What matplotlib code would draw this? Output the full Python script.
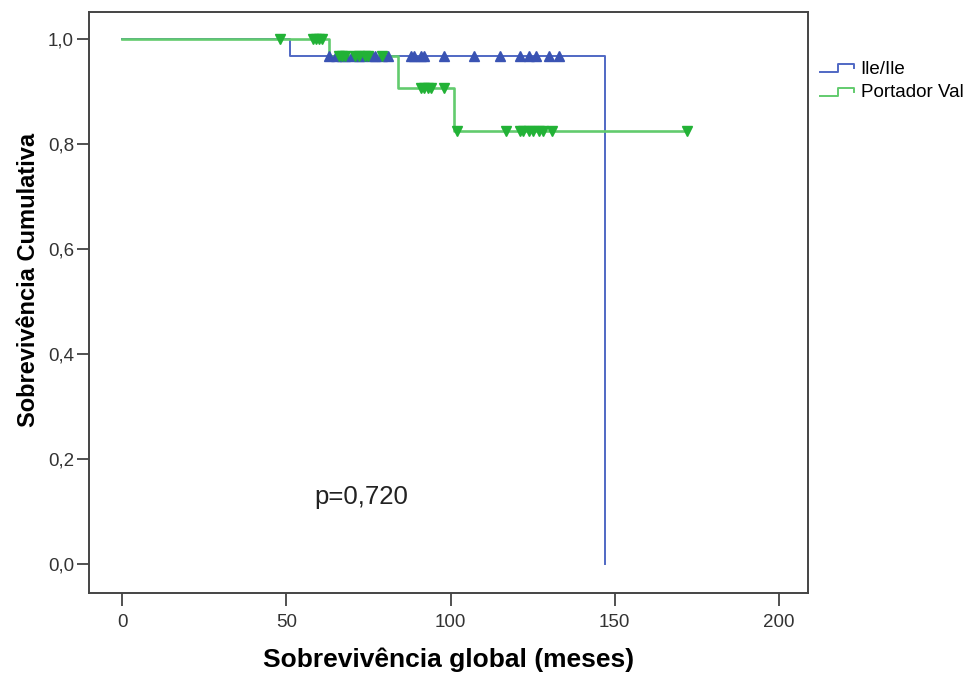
"""Curvas de Kaplan-Meier: sobrevivência global por genótipo."""

import numpy as np
import matplotlib
matplotlib.use("Agg")
import matplotlib.pyplot as plt
from matplotlib.legend_handler import HandlerBase
from matplotlib.lines import Line2D


# Dados (meses / sobrevivência cumulativa)

ILE_TEMPOS = [0, 51, 147]
ILE_SOBREV = [1.0, 0.967, 0.0]
ILE_CENSURA = [63, 65, 67, 68, 70, 72, 73, 76, 77, 79, 81,
               88, 89, 91, 92, 98, 107, 115, 121, 124, 126, 130, 133]

VAL_TEMPOS = [0, 63, 84, 101, 172]
VAL_SOBREV = [1.0, 0.967, 0.907, 0.825, 0.825]
VAL_CENSURA = [48, 58, 59, 60, 61, 66, 67, 68, 71, 72, 74, 75, 79,
               91, 92, 93, 94, 98, 102, 117, 121, 122, 124, 125, 127, 128,
               131, 172]

ROTULOS = ["Ile/Ile", "Portador Val"]
X_TICKS = [0, 50, 100, 150, 200]
Y_TICKS = [0.0, 0.2, 0.4, 0.6, 0.8, 1.0]

AZUL = "#5068c4"
AZUL_MARCA = "#3a53b3"
VERDE = "#62cb6e"
VERDE_MARCA = "#22b236"
FONTE = ["Liberation Sans", "DejaVu Sans"]


def sobrev_em(tempos, sobrev, t):
    """Valor da curva em degrau no instante t."""
    idx = np.searchsorted(tempos, t, side="right") - 1
    return np.asarray(sobrev)[idx]


class DegrauHandler(HandlerBase):
    """Símbolo da legenda em forma de degrau."""

    def create_artists(self, legend, orig_handle, xdescent, ydescent,
                       width, height, fontsize, trans):
        x0, y0 = -xdescent, -ydescent
        xs = [x0, x0 + 0.55 * width, x0 + 0.55 * width,
              x0 + width, x0 + width]
        ys = [y0 + 0.1 * height, y0 + 0.1 * height, y0 + 0.75 * height,
              y0 + 0.75 * height, y0 + 0.45 * height]
        linha = Line2D(xs, ys, color=orig_handle.get_color(), lw=1.4,
                       transform=trans)
        return [linha]


if __name__ == "__main__":

    plt.rcParams["font.family"] = FONTE
    fig = plt.figure(figsize=(9.71, 6.73), dpi=100)
    ax = fig.add_axes([0.092, 0.119, 0.740, 0.863])

    # Curvas
    l1, = ax.step(ILE_TEMPOS, ILE_SOBREV, where="post", color=AZUL, lw=1.4)
    l2, = ax.step(VAL_TEMPOS, VAL_SOBREV, where="post", color=VERDE, lw=1.9)

    # Censuras
    ax.plot(ILE_CENSURA, sobrev_em(ILE_TEMPOS, ILE_SOBREV, ILE_CENSURA),
            "^", color=AZUL_MARCA, ms=7, ls="none")
    ax.plot(VAL_CENSURA, sobrev_em(VAL_TEMPOS, VAL_SOBREV, VAL_CENSURA),
            "v", color=VERDE_MARCA, ms=7, ls="none")

    ax.text(58.5, 0.128, "p=0,720", fontsize=18.5, va="center", ha="left",
            color="#222222")

    # Eixos
    ax.set_xlim(-10, 208.8)
    ax.set_ylim(-0.055, 1.051)
    ax.set_xticks(X_TICKS)
    ax.set_xticklabels([str(v) for v in X_TICKS])
    ax.set_yticks(Y_TICKS)
    ax.set_yticklabels([f"{v:.1f}".replace(".", ",") for v in Y_TICKS])
    ax.tick_params(direction="out", length=9, width=1.2, labelsize=13.5,
                   colors="#333333")
    ax.tick_params(axis="y", pad=2)
    ax.tick_params(axis="x", pad=6)
    for lado in ax.spines.values():
        lado.set_color("#444444")
        lado.set_linewidth(1.4)

    ax.set_xlabel("Sobrevivência global (meses)", fontsize=19,
                  fontweight="bold", labelpad=12)
    ax.set_ylabel("Sobrevivência Cumulativa", fontsize=17,
                  fontweight="bold")
    ax.yaxis.set_label_coords(-0.068, 0.539)

    fig.legend([l1, l2], ROTULOS, handler_map={l1: DegrauHandler(),
                                               l2: DegrauHandler()},
               loc="upper left", bbox_to_anchor=(0.827, 0.935),
               frameon=False, fontsize=13.5, handlelength=1.8,
               handletextpad=0.37, labelspacing=0.35)

    fig.savefig("out.png", dpi=100)
